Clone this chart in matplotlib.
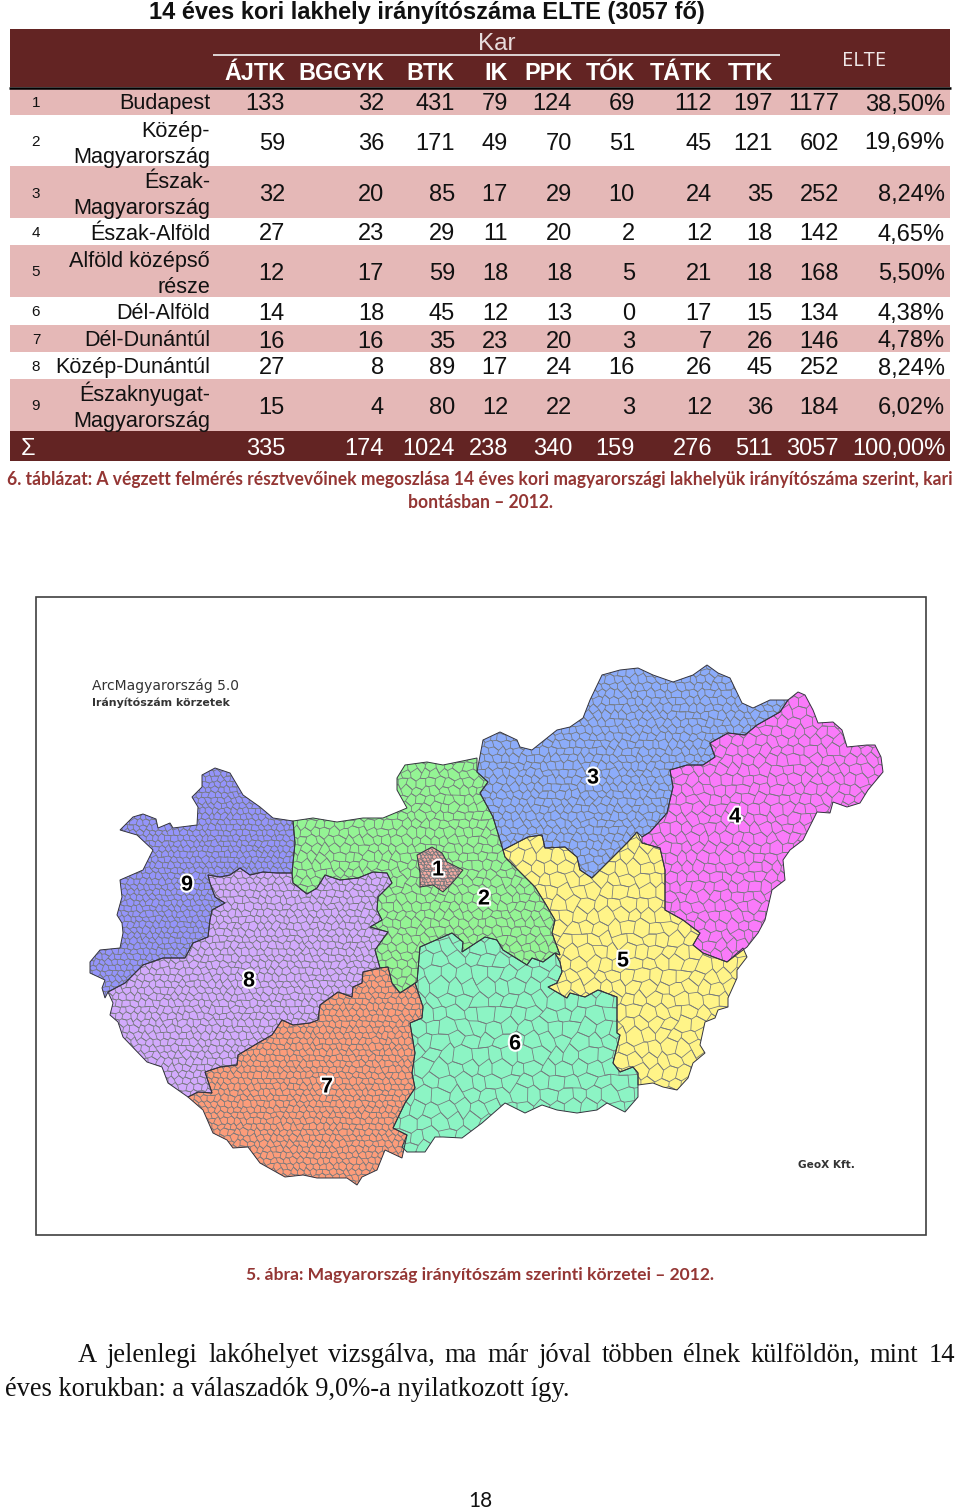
import numpy as np
import matplotlib
matplotlib.use("Agg")
import matplotlib.pyplot as plt
import matplotlib.patheffects as pe
from matplotlib.collections import LineCollection
from matplotlib.patches import Polygon, Rectangle

# ---- table data ----
title = "14 éves kori lakhely irányítószáma ELTE (3057 fő)"
faculties = ["ÁJTK", "BGGYK", "BTK", "IK", "PPK", "TÓK", "TÁTK", "TTK"]
row_ids = ["1", "2", "3", "4", "5", "6", "7", "8", "9"]
row_names = ["Budapest", "Közép-\nMagyarország", "Észak-\nMagyarország", "Észak-Alföld",
             "Alföld középső\nrésze", "Dél-Alföld", "Dél-Dunántúl", "Közép-Dunántúl",
             "Északnyugat-\nMagyarország"]
ajtk = [133, 59, 32, 27, 12, 14, 16, 27, 15]
bggyk = [32, 36, 20, 23, 17, 18, 16, 8, 4]
btk = [431, 171, 85, 29, 59, 45, 35, 89, 80]
ik = [79, 49, 17, 11, 18, 12, 23, 17, 12]
ppk = [124, 70, 29, 20, 18, 13, 20, 24, 22]
tok = [69, 51, 10, 2, 5, 0, 3, 16, 3]
tatk = [112, 45, 24, 12, 21, 17, 7, 26, 12]
ttk = [197, 121, 35, 18, 18, 15, 26, 45, 36]
elte_total = [1177, 602, 252, 142, 168, 134, 146, 252, 184]
elte_pct = ["38,50%", "19,69%", "8,24%", "4,65%", "5,50%", "4,38%", "4,78%", "8,24%", "6,02%"]
sum_row = ["335", "174", "1024", "238", "340", "159", "276", "511", "3057", "100,00%"]

# ---- region outlines (image pixels) ----
region_9 = [(120,830),(133,817),(143,814),(156,819),(158,828),(170,823),(173,828),(197,825),(198,807),
            (192,797),(202,787),(202,775),(215,768),(230,773),(243,795),(260,807),(273,818),(293,821),
            (295,843),(292,873),(277,873),(263,872),(250,875),(240,868),(230,875),(220,877),(208,875),
            (210,883),(215,897),(225,903),(212,910),(210,920),(208,937),(193,943),(185,958),(163,958),
            (143,965),(125,983),(108,992),(105,998),(102,988),(105,980),(90,973),(90,962),(100,950),
            (120,948),(123,933),(122,923),(117,915),(122,897),(120,880),(143,870),(153,850),(137,835)]
region_8 = [(208,875),(220,877),(230,875),(240,868),(250,875),(263,872),(277,873),(292,873),(293,883),
            (307,894),(317,888),(325,875),(340,880),(358,878),(373,872),(387,873),(392,883),(378,897),
            (377,910),(382,920),(370,927),(388,932),(375,950),(380,968),(363,972),(362,983),(353,987),
            (352,997),(338,992),(320,1005),(318,1020),(310,1023),(293,1025),(282,1020),(272,1035),
            (258,1043),(238,1055),(237,1065),(220,1067),(205,1072),(212,1093),(198,1092),(188,1097),
            (168,1083),(162,1067),(147,1062),(123,1037),(118,1022),(110,1015),(113,1003),(108,992),
            (125,983),(143,965),(163,958),(185,958),(193,943),(208,937),(210,920),(212,910),(225,903),
            (215,897),(210,883)]
region_7 = [(188,1097),(198,1092),(212,1093),(205,1072),(220,1067),(237,1065),(238,1055),(258,1043),
            (272,1035),(282,1020),(293,1025),(310,1023),(318,1020),(320,1005),(338,992),(352,997),
            (353,987),(362,983),(363,972),(380,968),(388,967),(392,983),(400,993),(415,983),(423,1007),
            (422,1018),(410,1023),(415,1053),(412,1073),(415,1088),(405,1103),(393,1128),(407,1135),
            (402,1158),(385,1150),(377,1170),(362,1177),(357,1185),(347,1178),(317,1178),(303,1175),
            (285,1177),(260,1163),(248,1147),(233,1148),(227,1140),(213,1133),(203,1110)]
region_6 = [(420,947),(452,933),(463,942),(462,952),(485,937),(497,940),(503,950),(527,965),(532,958),
            (543,962),(555,953),(560,962),(562,972),(557,983),(548,987),(567,998),(570,993),(585,997),
            (598,990),(617,997),(617,1033),(620,1035),(613,1063),(620,1072),(633,1067),(638,1073),
            (638,1097),(625,1112),(607,1103),(597,1110),(577,1113),(557,1110),(542,1105),(525,1113),
            (505,1103),(482,1123),(462,1138),(443,1137),(435,1137),(425,1152),(407,1152),(402,1147),
            (407,1135),(393,1128),(405,1103),(415,1088),(412,1073),(415,1053),(410,1023),(422,1018),
            (423,1007),(415,983),(417,982)]
region_5 = [(503,850),(528,837),(542,835),(545,848),(565,847),(577,857),(580,870),(592,878),(608,862),
            (627,843),(637,832),(642,843),(660,848),(665,870),(665,910),(683,920),(700,933),(693,945),
            (703,953),(727,962),(743,948),(747,957),(737,970),(737,978),(728,998),(728,1007),(718,1010),
            (715,1018),(705,1022),(700,1045),(705,1053),(693,1063),(688,1078),(677,1090),(663,1087),
            (653,1083),(638,1085),(638,1073),(633,1067),(620,1072),(613,1063),(620,1035),(617,1033),
            (617,997),(598,990),(585,997),(570,993),(567,998),(548,987),(557,983),(562,972),(560,962),
            (555,953),(560,955),(552,933),(555,920),(545,903),(535,887),(515,867),(505,857)]
region_4 = [(642,837),(650,832),(667,813),(673,787),(670,770),(687,765),(703,765),(715,757),(710,743),
            (728,733),(745,735),(757,725),(780,712),(788,700),(798,692),(805,695),(813,710),(818,723),
            (833,722),(842,730),(847,747),(867,745),(875,745),(881,757),(883,772),(868,790),(860,803),
            (847,807),(833,802),(830,813),(817,812),(803,840),(790,850),(783,860),(785,880),(772,890),
            (765,920),(758,933),(747,947),(727,962),(703,953),(693,945),(700,933),(683,920),(665,910),
            (665,870),(660,848),(642,843)]
region_3 = [(477,772),(483,740),(500,732),(517,740),(520,747),(532,750),(557,730),(570,727),(583,718),
            (590,700),(602,675),(620,670),(638,668),(653,675),(673,682),(693,675),(707,665),(718,673),
            (730,678),(742,703),(753,708),(770,700),(788,700),(780,712),(757,725),(745,735),(728,733),
            (710,743),(715,757),(703,765),(687,765),(670,770),(673,787),(667,813),(650,832),(642,837),
            (637,832),(627,843),(608,862),(592,878),(580,870),(577,857),(565,847),(545,848),(542,835),
            (528,837),(503,850),(493,817),(480,793),(488,782)]
region_2 = [(293,821),(313,818),(337,822),(363,818),(383,818),(407,808),(397,790),(397,778),(405,765),
            (427,762),(443,765),(477,758),(477,772),(488,782),(480,793),(493,817),(503,850),(505,857),
            (515,867),(535,887),(545,903),(555,920),(552,933),(560,955),(555,953),(543,962),(532,958),
            (527,965),(503,950),(497,940),(485,937),(462,952),(463,942),(452,933),(420,947),(417,982),
            (400,993),(392,983),(388,967),(380,968),(375,950),(388,932),(370,927),(382,920),(377,910),
            (378,897),(392,883),(387,873),(373,872),(358,878),(340,880),(325,875),(317,888),(307,894),
            (293,883),(292,873),(295,843)]
region_1 = [(417,855),(432,847),(442,853),(447,862),(463,870),(453,882),(443,892),(433,885),(420,887),(420,873)]

region_names = ["1", "2", "3", "4", "5", "6", "7", "8", "9"]
region_label_x = [438, 484, 593, 735, 623, 515, 327, 249, 187]
region_label_y = [870, 899, 778, 817, 961, 1044, 1087, 981, 885]

# ---- layout ----
DARK = "#632423"
PINK = "#E5B8B7"
CAPTION = "#943634"
SANS = "Liberation Sans"

W, H = 960, 1511
fig = plt.figure(figsize=(W / 100, H / 100), dpi=100)
ax = fig.add_axes([0, 0, 1, 1])
ax.set_xlim(0, W)
ax.set_ylim(H, 0)
ax.axis("off")

ax.text(427, 19, title, family=SANS, fontsize=17, fontweight="bold", ha="center", va="baseline", color="#111111")

# table bands
row_edges = [88, 115, 166, 218, 245, 297, 325, 352, 379, 431]
ax.add_patch(Rectangle((10, 29), 940, 58, fc=DARK, ec="none"))
ax.add_patch(Rectangle((10, 431), 940, 30, fc=DARK, ec="none"))
for i in range(9):
    if i in (0, 2, 4, 6, 8):
        ax.add_patch(Rectangle((10, row_edges[i]), 940, row_edges[i + 1] - row_edges[i], fc=PINK, ec="none"))
ax.plot([213, 780], [55, 55], color="#f2f2f2", lw=1.2, solid_capstyle="butt")
ax.plot([9, 951], [87.5, 87.5], color="black", lw=1.8, solid_capstyle="butt")

col_right = [285, 384, 455, 508, 572, 635, 712, 773, 839, 945]
ax.text(497, 44, "Kar", family=SANS, fontsize=17.5, color="#e8dcdc", ha="center", va="center")
ax.text(864, 61, "ELTE", family="Open Sans", fontsize=14.5, color="#f0e8e8", ha="center", va="center")
for name, xr in zip(faculties, col_right):
    ax.text(xr, 79.5, name, family=SANS, fontsize=16.8, fontweight="bold", color="white", ha="right", va="baseline")

columns = [ajtk, bggyk, btk, ik, ppk, tok, tatk, ttk, elte_total]
for i in range(9):
    yc = (row_edges[i] + row_edges[i + 1]) / 2
    ax.text(36, yc + 5.5, row_ids[i], family=SANS, fontsize=11, ha="center", va="baseline", color="#111111")
    parts = row_names[i].split("\n")
    if len(parts) == 1:
        ax.text(210, yc + 8, parts[0], family=SANS, fontsize=15.6, ha="right", va="baseline", color="#111111")
    else:
        ax.text(210, yc - 4, parts[0], family=SANS, fontsize=15.6, ha="right", va="baseline", color="#111111")
        ax.text(210, yc + 22, parts[1], family=SANS, fontsize=15.6, ha="right", va="baseline", color="#111111")
    for col, xr in zip(columns, col_right):
        ax.text(xr, yc + 9, str(col[i]), family=SANS, fontsize=17, ha="right", va="baseline", color="#111111")
    ax.text(945, yc + 9, elte_pct[i], family=SANS, fontsize=17, ha="right", va="baseline", color="#111111")

ax.text(28, 455, "Σ", family=SANS, fontsize=17, color="white", ha="center", va="baseline")
for val, xr in zip(sum_row, col_right):
    ax.text(xr, 455, val, family=SANS, fontsize=17, color="white", ha="right", va="baseline")

caption_1 = "6. táblázat: A végzett felmérés résztvevőinek megoszlása 14 éves kori magyarországi lakhelyük irányítószáma szerint, kari"
ax.text(480, 479, caption_1, family="Lato", fontsize=12.65, fontweight="bold", color=CAPTION, ha="center", va="center")
ax.text(480, 502, "bontásban – 2012.", family="Lato", fontsize=12.65, fontweight="bold", color=CAPTION, ha="center", va="center")

# map frame
ax.add_patch(Rectangle((35.5, 596.5), 890, 638, fc="white", ec="#404040", lw=1.2))


def wobble(x, y, amount):
    # fixed jitter so the lattice below does not look like a perfect honeycomb
    h1 = np.sin(x * 12.9898 + y * 78.233) * 43758.5453
    h2 = np.sin(x * 39.346 + y * 11.135) * 24634.6345
    return x + amount * (2 * (h1 % 1) - 1), y + amount * (2 * (h2 % 1) - 1)


def postcode_mesh(outline, cell):
    # stand-in for the postcode borders inside a region: they are far too many to trace
    pts = np.array(outline)
    x0, y0 = pts.min(axis=0)
    x1, y1 = pts.max(axis=0)
    dx = cell * np.sqrt(3)
    segs = []
    for j in range(int((y1 - y0) / (1.5 * cell)) + 3):
        cy = y0 + j * 1.5 * cell
        for i in range(int((x1 - x0) / dx) + 3):
            cx = x0 + i * dx + (dx / 2 if j % 2 else 0)
            corners = [(cx, cy - cell), (cx + dx / 2, cy - cell / 2), (cx + dx / 2, cy + cell / 2),
                       (cx, cy + cell), (cx - dx / 2, cy + cell / 2)]
            corners = [wobble(round(a, 2), round(b, 2), cell * 0.32) for a, b in corners]
            segs += [[corners[k], corners[k + 1]] for k in range(4)]
    return segs


regions = [region_9, region_8, region_7, region_6, region_5, region_3, region_4, region_2, region_1]
fills = ["#9494fa", "#d2aafc", "#fc9c7a", "#8cf4c4", "#fff488", "#8cacfa", "#fa7afa", "#94f494", "#f2aaa2"]
cells = [3.6, 4.3, 3.8, 9.0, 8.0, 4.8, 6.5, 5.5, 2.2]
for outline, fill, cell in zip(regions, fills, cells):
    patch = Polygon(outline, closed=True, fc=fill, ec="none", zorder=2)
    ax.add_patch(patch)
    lc = LineCollection(postcode_mesh(outline, cell), colors="#74787c", linewidths=0.55, zorder=3)
    ax.add_collection(lc)
    lc.set_clip_path(patch)
    ax.add_patch(Polygon(outline, closed=True, fc="none", ec="#34343e", lw=0.7, zorder=4))

for name, x, y in zip(region_names, region_label_x, region_label_y):
    ax.text(x, y, name, family=SANS, fontsize=15.5, fontweight="bold", color="black", ha="center", va="center", zorder=6,
            path_effects=[pe.withStroke(linewidth=3, foreground="white")])

ax.text(92, 686, "ArcMagyarország 5.0", family="DejaVu Sans", fontsize=10, color="#333333", ha="left", va="center")
ax.text(92, 703, "Irányítószám körzetek", family="DejaVu Sans", fontsize=7.9, fontweight="bold", color="#333333", ha="left", va="center")
ax.text(798, 1165, "GeoX Kft.", family="DejaVu Sans", fontsize=7.6, fontweight="bold", color="#333333", ha="left", va="center")

ax.text(480, 1275, "5. ábra: Magyarország irányítószám szerinti körzetei – 2012.", family="Lato", fontsize=12.6,
        fontweight="bold", color=CAPTION, ha="center", va="center")

# justified body text, word by word
body_words = "A jelenlegi lakóhelyet vizsgálva, ma már jóval többen élnek külföldön, mint 14".split()
renderer = fig.canvas.get_renderer()
words = [ax.text(0, 1355, w, family="Liberation Serif", fontsize=19.1, color="#111111", ha="left", va="center") for w in body_words]
widths = [t.get_window_extent(renderer).width for t in words]
gap = (955 - 78 - sum(widths)) / (len(words) - 1)
x = 78
for t, w in zip(words, widths):
    t.set_x(x)
    x += w + gap
ax.text(5, 1389, "éves korukban: a válaszadók 9,0%-a nyilatkozott így.", family="Liberation Serif", fontsize=19.1,
        color="#111111", ha="left", va="center")
ax.text(480, 1501, "18", family="Lato", fontsize=15, color="#111111", ha="center", va="center")

fig.savefig("out.png", dpi=100, facecolor="white")
